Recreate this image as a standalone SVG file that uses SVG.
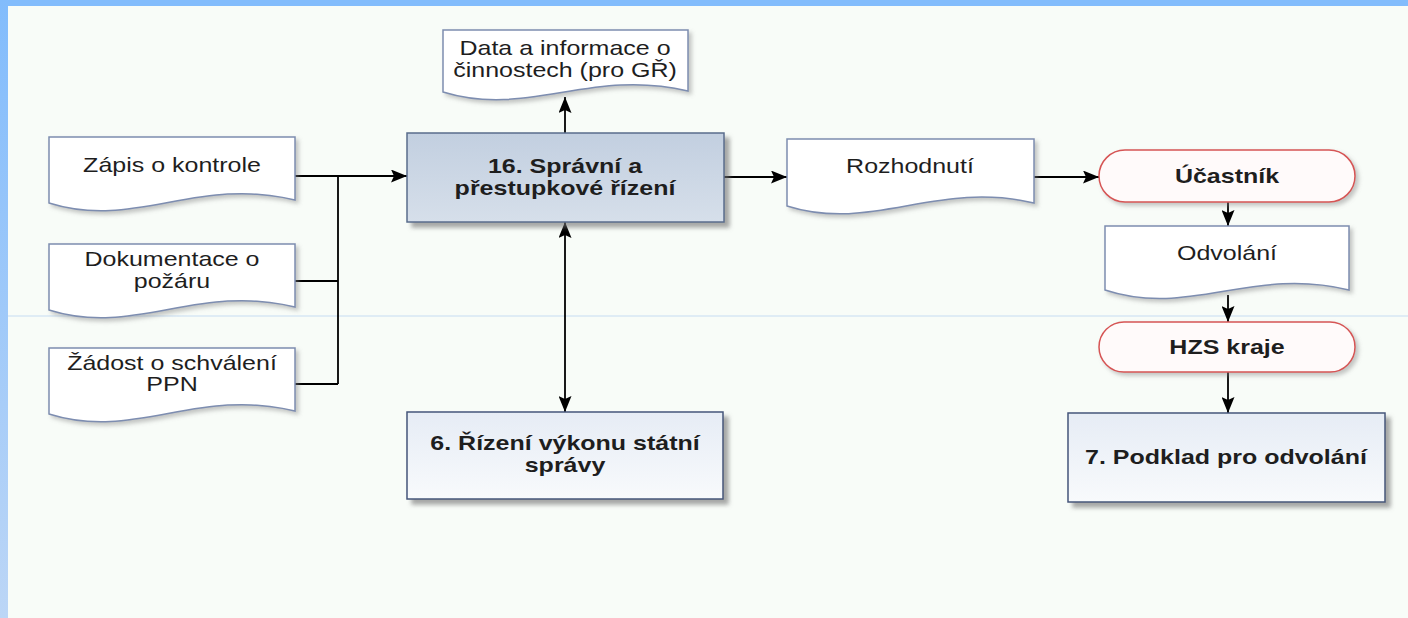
<svg xmlns="http://www.w3.org/2000/svg" width="1408" height="618" viewBox="0 0 1408 618">
<style>
.t{font-family:"Liberation Sans",Arial,sans-serif;font-size:21px;fill:#1e1e1e;text-anchor:middle}
.b{font-weight:bold}
.doc{fill:#ffffff;stroke:#7d8db0;stroke-width:1.5;filter:url(#sh)}
.term{fill:#fffafa;stroke:#d65454;stroke-width:1.5;filter:url(#sh)}
.proc{fill:url(#gp);stroke:#45567a;stroke-width:1.5;filter:url(#sh2)}
.main{fill:url(#gm);stroke:#5a6c8c;stroke-width:1.5;filter:url(#sh2)}
.c{fill:none;stroke:#000;stroke-width:1.8}
</style>
<defs>
<linearGradient id="gl" x1="0" y1="0" x2="0" y2="1"><stop offset="0" stop-color="#82bcfc"/><stop offset="1" stop-color="#bcd6f6"/></linearGradient>
<linearGradient id="gm" x1="0" y1="0" x2="0" y2="1"><stop offset="0" stop-color="#c2cfe0"/><stop offset="1" stop-color="#d6dfea"/></linearGradient>
<linearGradient id="gp" x1="0" y1="0" x2="0" y2="1"><stop offset="0" stop-color="#e6ecf5"/><stop offset="1" stop-color="#f8fafc"/></linearGradient>
<filter id="sh" x="-10%" y="-10%" width="130%" height="140%"><feDropShadow dx="3" dy="3" stdDeviation="2" flood-color="#808080" flood-opacity="0.45"/></filter>
<filter id="sh2" x="-10%" y="-10%" width="130%" height="140%"><feDropShadow dx="5" dy="5" stdDeviation="2" flood-color="#707070" flood-opacity="0.6"/></filter>
<marker id="ar" viewBox="0 0 16 13" refX="16" refY="6.5" markerWidth="16" markerHeight="13" markerUnits="userSpaceOnUse" orient="auto-start-reverse"><path d="M0,0 L16,6.5 L0,13 L3,6.5 z" fill="#000"/></marker>
</defs>
<rect width="1408" height="618" fill="#f8fcf8"/>
<rect width="1408" height="6" fill="#82bcfc"/>
<rect width="8" height="618" fill="url(#gl)"/>
<line x1="8" y1="316" x2="1408" y2="316" stroke="#c6dcf2" stroke-width="1"/>

<g id="connectors">
<path class="c" d="M295,176 H338 M338,176 V384 M295,281 H338 M295,384 H338"/>
<path class="c" d="M338,176 H407" marker-end="url(#ar)"/>
<path class="c" d="M565,133 V97" marker-end="url(#ar)"/>
<path class="c" d="M724,177 H787" marker-end="url(#ar)"/>
<path class="c" d="M565,222 V412" marker-start="url(#ar)" marker-end="url(#ar)"/>
<path class="c" d="M1034,177 H1099" marker-end="url(#ar)"/>
<path class="c" d="M1228,202 V226" marker-end="url(#ar)"/>
<path class="c" d="M1228,295 V322" marker-end="url(#ar)"/>
<path class="c" d="M1228,372 V413" marker-end="url(#ar)"/>
</g>

<g id="zapis">
<path class="doc" d="M49,137 H295 V200 C197,176 135,230 49,203 Z"/>
<text class="t" transform="translate(172,172) scale(1.19,1)">Zápis o kontrole</text>
</g>
<g id="dokumentace">
<path class="doc" d="M49,244 H295 V307 C197,283 135,337 49,310 Z"/>
<text class="t" transform="translate(172,266) scale(1.19,1)"><tspan x="0" y="0">Dokumentace o</tspan><tspan x="0" y="22">požáru</tspan></text>
</g>
<g id="zadost">
<path class="doc" d="M49,348 H295 V411 C197,387 135,441 49,414 Z"/>
<text class="t" transform="translate(172,370) scale(1.19,1)"><tspan x="0" y="0">Žádost o schválení</tspan><tspan x="0" y="21">PPN</tspan></text>
</g>
<g id="data">
<path class="doc" d="M443,30 H688 V91 C590,68 528,118 443,92 Z"/>
<text class="t" transform="translate(565,55) scale(1.19,1)"><tspan x="0" y="0">Data a informace o</tspan><tspan x="0" y="22">činnostech (pro GŘ)</tspan></text>
</g>
<g id="spravni">
<rect class="main" x="407" y="133" width="317" height="89"/>
<text class="t b" transform="translate(565,173) scale(1.19,1)"><tspan x="0" y="0">16. Správní a</tspan><tspan x="0" y="22">přestupkové řízení</tspan></text>
</g>
<g id="rozhodnuti">
<path class="doc" d="M787,139 H1034 V203 C936,180 873,233 787,206 Z"/>
<text class="t" transform="translate(910,173) scale(1.19,1)">Rozhodnutí</text>
</g>
<g id="ucastnik">
<rect class="term" x="1099" y="150" width="256" height="52" rx="26"/>
<text class="t b" transform="translate(1227,183) scale(1.19,1)">Účastník</text>
</g>
<g id="odvolani">
<path class="doc" d="M1105,226 H1349 V290 C1252,266 1190,318 1105,290 Z"/>
<text class="t" transform="translate(1227,260) scale(1.19,1)">Odvolání</text>
</g>
<g id="hzs">
<rect class="term" x="1099" y="322" width="256" height="50" rx="25"/>
<text class="t b" transform="translate(1227,354) scale(1.19,1)">HZS kraje</text>
</g>
<g id="rizeni">
<rect class="proc" x="407" y="412" width="316" height="87"/>
<text class="t b" transform="translate(565,450) scale(1.19,1)"><tspan x="0" y="0">6. Řízení výkonu státní</tspan><tspan x="0" y="22">správy</tspan></text>
</g>
<g id="podklad">
<rect class="proc" x="1068" y="413" width="317" height="89"/>
<text class="t b" transform="translate(1226,464) scale(1.19,1)">7. Podklad pro odvolání</text>
</g>
</svg>
